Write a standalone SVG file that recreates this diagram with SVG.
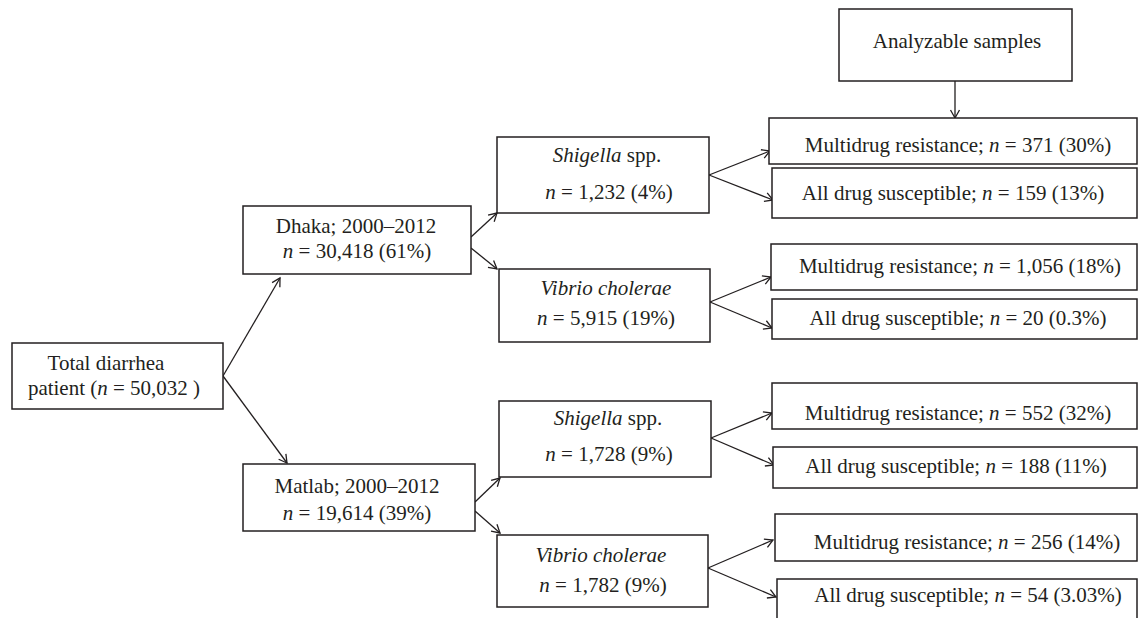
<svg xmlns="http://www.w3.org/2000/svg" width="1138" height="618" viewBox="0 0 1138 618">
<defs>
<marker id="arr" markerUnits="userSpaceOnUse" viewBox="-10 -6 12 12" refX="0" refY="0" markerWidth="12" markerHeight="12" orient="auto">
<path d="M-8,-4.5 L0,0 L-8,4.5" fill="none" stroke="#231f20" stroke-width="1.3"/>
</marker>
<style>
.box{fill:#fff;stroke:#231f20;stroke-width:1.5}
.t{font-family:"Liberation Serif","Times New Roman",serif;font-size:21px;fill:#231f20;text-anchor:middle}
.i{font-style:italic}
.c{stroke:#231f20;stroke-width:1.3;fill:none;marker-end:url(#arr)}
</style>
</defs>
<rect width="1138" height="618" fill="#fff"/>
<g id="connectors">
<line class="c" x1="223" y1="376" x2="280" y2="278"/>
<line class="c" x1="223" y1="376" x2="287" y2="463"/>
<line class="c" x1="471" y1="237" x2="497" y2="213"/>
<line class="c" x1="471" y1="248" x2="497" y2="269"/>
<line class="c" x1="475" y1="502" x2="500" y2="478"/>
<line class="c" x1="475" y1="511" x2="500" y2="533"/>
<line class="c" x1="709" y1="175" x2="770" y2="151"/>
<line class="c" x1="709" y1="175" x2="773" y2="200"/>
<line class="c" x1="710" y1="302" x2="771" y2="277"/>
<line class="c" x1="710" y1="302" x2="772" y2="328"/>
<line class="c" x1="711" y1="438" x2="772" y2="413"/>
<line class="c" x1="711" y1="438" x2="774" y2="465"/>
<line class="c" x1="708" y1="568" x2="773" y2="540"/>
<line class="c" x1="708" y1="568" x2="776" y2="597"/>
<line class="c" x1="955" y1="81" x2="955" y2="118"/>
</g>
<g id="total">
<rect class="box" x="12" y="343" width="211" height="66"/>
<text class="t" x="106" y="370">Total diarrhea</text>
<text class="t" x="114" y="395">patient (<tspan class="i">n</tspan> = 50,032 )</text>
</g>
<g id="dhaka">
<rect class="box" x="243" y="206" width="228" height="68"/>
<text class="t" x="356" y="233">Dhaka; 2000–2012</text>
<text class="t" x="357" y="258"><tspan class="i">n</tspan> = 30,418 (61%)</text>
</g>
<g id="matlab">
<rect class="box" x="243" y="464" width="232" height="67"/>
<text class="t" x="357" y="493">Matlab; 2000–2012</text>
<text class="t" x="357" y="520"><tspan class="i">n</tspan> = 19,614 (39%)</text>
</g>
<g id="shigella-dhaka">
<rect class="box" x="497" y="137" width="212" height="76"/>
<text class="t" x="607" y="162"><tspan class="i">Shigella</tspan> spp.</text>
<text class="t" x="609" y="199"><tspan class="i">n</tspan> = 1,232 (4%)</text>
</g>
<g id="vibrio-dhaka">
<rect class="box" x="499" y="269" width="211" height="73"/>
<text class="t i" x="606" y="295">Vibrio cholerae</text>
<text class="t" x="606" y="325"><tspan class="i">n</tspan> = 5,915 (19%)</text>
</g>
<g id="shigella-matlab">
<rect class="box" x="499" y="401" width="212" height="76"/>
<text class="t" x="608" y="425"><tspan class="i">Shigella</tspan> spp.</text>
<text class="t" x="609" y="461"><tspan class="i">n</tspan> = 1,728 (9%)</text>
</g>
<g id="vibrio-matlab">
<rect class="box" x="497" y="535" width="211" height="72"/>
<text class="t i" x="601" y="562">Vibrio cholerae</text>
<text class="t" x="603" y="592"><tspan class="i">n</tspan> = 1,782 (9%)</text>
</g>
<g id="analyzable">
<rect class="box" x="839" y="9" width="233" height="72"/>
<text class="t" x="957" y="48">Analyzable samples</text>
</g>
<g id="mdr-shigella-dhaka">
<rect class="box" x="769" y="118" width="368" height="46"/>
<text class="t" x="958" y="152">Multidrug resistance; <tspan class="i">n</tspan> = 371 (30%)</text>
</g>
<g id="sus-shigella-dhaka">
<rect class="box" x="772" y="168" width="365" height="50"/>
<text class="t" x="953" y="200">All drug susceptible; <tspan class="i">n</tspan> = 159 (13%)</text>
</g>
<g id="mdr-vibrio-dhaka">
<rect class="box" x="771" y="244" width="366" height="46"/>
<text class="t" x="960" y="273">Multidrug resistance; <tspan class="i">n</tspan> = 1,056 (18%)</text>
</g>
<g id="sus-vibrio-dhaka">
<rect class="box" x="772" y="299" width="365" height="40"/>
<text class="t" x="958" y="325">All drug susceptible; <tspan class="i">n</tspan> = 20 (0.3%)</text>
</g>
<g id="mdr-shigella-matlab">
<rect class="box" x="772" y="383" width="365" height="46"/>
<text class="t" x="958" y="420">Multidrug resistance; <tspan class="i">n</tspan> = 552 (32%)</text>
</g>
<g id="sus-shigella-matlab">
<rect class="box" x="773" y="447" width="364" height="41"/>
<text class="t" x="956" y="473">All drug susceptible; <tspan class="i">n</tspan> = 188 (11%)</text>
</g>
<g id="mdr-vibrio-matlab">
<rect class="box" x="775" y="514" width="362" height="47"/>
<text class="t" x="967" y="549">Multidrug resistance; <tspan class="i">n</tspan> = 256 (14%)</text>
</g>
<g id="sus-vibrio-matlab">
<rect class="box" x="777" y="579" width="360" height="45"/>
<text class="t" x="968" y="602">All drug susceptible; <tspan class="i">n</tspan> = 54 (3.03%)</text>
</g>
</svg>
